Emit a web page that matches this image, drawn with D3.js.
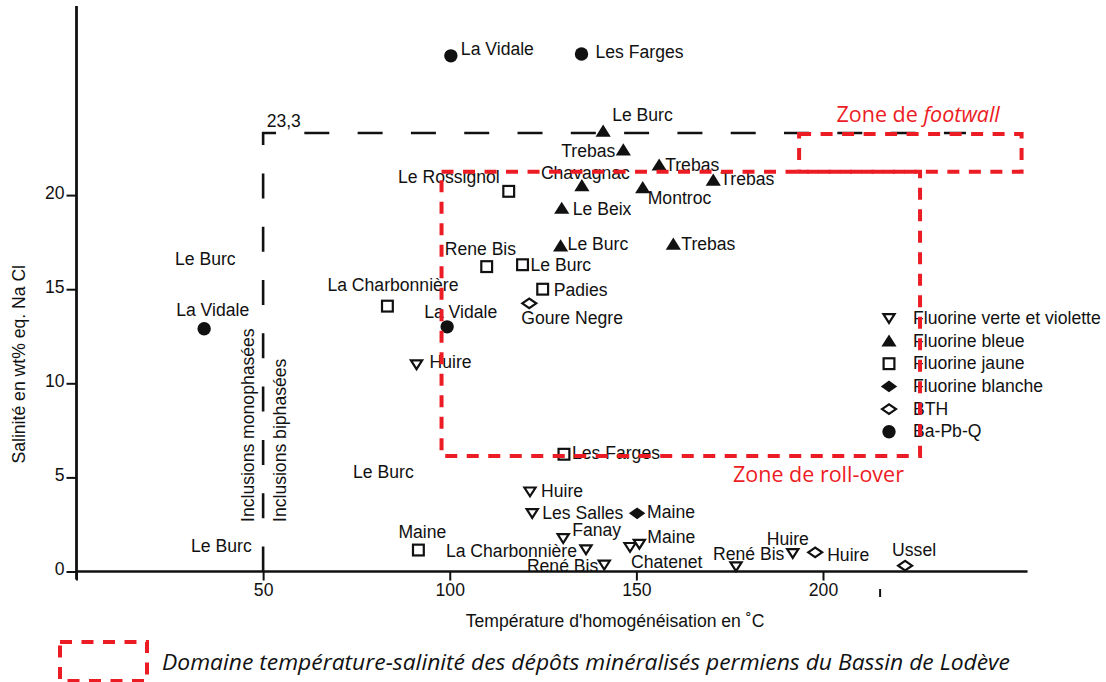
<!DOCTYPE html>
<html><head><meta charset="utf-8">
<script src="https://cdn.jsdelivr.net/npm/d3@7"></script>
<style>
html,body{margin:0;padding:0;background:#fff;}
svg{display:block;}
text{font-family:"Liberation Sans",Arial,Helvetica,sans-serif;fill:#111;}
</style></head><body>
<svg id="chart" width="1106" height="682"></svg>
<script>
// ---------- data ----------
const categories = ["Fluorine verte et violette","Fluorine bleue","Fluorine jaune","Fluorine blanche","BTH","Ba-Pb-Q"];

const fvNames = ["Huire","Huire","Les Salles","Fanay","La Charbonnière","René Bis","Chatenet","Maine","René Bis","Huire"];
const fvTemp  = [91.1,121.5,122.1,130.4,136.5,141.4,148.3,150.8,176.7,191.9];
const fvSal   = [11.0,4.24,3.09,1.76,1.17,0.35,1.29,1.46,0.26,0.97];

const fbNames = ["Le Burc","Trebas","Trebas","Trebas","Chavagnac","Montroc","Le Beix","Le Burc","Trebas"];
const fbTemp  = [141.1,146.5,156.1,170.6,135.4,151.7,130.0,129.7,159.9];
const fbSal   = [23.4,22.4,21.6,20.8,20.5,20.4,19.3,17.3,17.4];

const fjNames = ["Le Rossignol","Rene Bis","Le Burc","Padies","La Charbonnière","Les Farges","Maine"];
const fjTemp  = [115.8,109.9,119.5,124.9,83.3,130.6,91.6];
const fjSal   = [20.2,16.2,16.3,15.0,14.1,6.23,1.14];

const fwNames = ["Maine"];
const fwTemp  = [150.2];
const fwSal   = [3.09];

const bthNames = ["Goure Negre","Huire","Ussel"];
const bthTemp  = [121.3,197.9,222.0];
const bthSal   = [14.25,1.02,0.31];

const bpNames = ["La Vidale","Les Farges","La Vidale","La Vidale"];
const bpTemp  = [100.3,135.3,34.2,99.3];
const bpSal   = [27.4,27.5,12.9,13.0];

// labels without marker
const freeNames = ["Le Burc","Le Burc","Le Burc"];
const freeTemp  = [26.4,74.1,30.7];
const freeSal   = [16.3,4.97,1.05];

// limits
const limitTemp = 50, limitSal = 23.3, limitTempEnd = 238.3;
const zoneNames = ["roll-over","footwall"];
const zoneT0 = [97.8,193.6], zoneT1 = [226.0,253.2];
const zoneS0 = [6.14,21.24], zoneS1 = [21.24,23.25];

const xTicks = [0,50,100,150,200];
const yTicks = [0,5,10,15,20];
const strayTick = [215.3];

// ---------- layout (label placement, px) ----------
const fvLab = [[13,4,"start"],[11,5,"start"],[10,6,"start"],[9,-2,"start"],[-9,8,"end"],[-6,7,"end"],[1,21,"start"],[8,-1,"start"],[-23,-7,"start"],[-26,-8,"start"]];
const fbLab = [[9,-10,"start"],[-8,7,"end"],[6,6,"start"],[7,5,"start"],[-41,-7,"start"],[5,16,"start"],[11,7,"start"],[7,4,"start"],[8,6,"start"]];
const fjLab = [[-9,-8,"end"],[-42,-12,"start"],[8,6,"start"],[11,7,"start"],[-60,-15,"start"],[8,5,"start"],[-20,-12,"start"]];
const fwLab = [[10,5,"start"]];
const bthLab = [[-8,21,"start"],[12,9,"start"],[-13,-10,"start"]];
const bpLab = [[10,-1,"start"],[14,4,"start"],[-28,-12.5,"start"],[-23,-9,"start"]];

// ---------- drawing ----------
const svg = d3.select("#chart");
const FS = "17.6px";
const x = d3.scaleLinear().domain([0,200]).range([76.5,823]);
const y = d3.scaleLinear().domain([0,20]).range([571.5,195.1]);

const RED = "#ec1c24";

// axes
const gx = svg.append("g").attr("transform","translate(0,"+y(0)+")")
  .call(d3.axisBottom(x).tickValues(xTicks).tickFormat(d=>d===0?"":d).tickSize(9).tickSizeOuter(0).tickPadding(3.5));
gx.select(".domain").remove();
gx.selectAll(".tick line").attr("stroke","#111").attr("stroke-width",2);
gx.selectAll(".tick text").attr("font-size",FS).attr("font-family","Liberation Sans, Arial").attr("fill","#111");

const gy = svg.append("g").attr("transform","translate("+x(0)+",0)")
  .call(d3.axisLeft(y).tickValues(yTicks).tickSize(10).tickSizeOuter(0).tickPadding(2));
gy.select(".domain").remove();
gy.selectAll(".tick line").attr("stroke","#111").attr("stroke-width",2);
gy.selectAll(".tick text").attr("font-size",FS).attr("font-family","Liberation Sans, Arial").attr("fill","#111").attr("dy","0.17em");

svg.append("line").attr("x1",x(0)).attr("x2",x(0)).attr("y1",6).attr("y2",y(0)+8)
  .attr("stroke","#111").attr("stroke-width",2.8);
svg.append("line").attr("x1",x(0)).attr("x2",x(254.8)).attr("y1",y(0)).attr("y2",y(0))
  .attr("stroke","#111").attr("stroke-width",2.4);
svg.selectAll(".stray").data(strayTick).join("line").attr("class","stray")
  .attr("x1",d=>x(d)).attr("x2",d=>x(d)).attr("y1",589).attr("y2",597)
  .attr("stroke","#111").attr("stroke-width",2);

// axis titles
svg.append("text").attr("x",615).attr("y",626.5).attr("text-anchor","middle")
  .attr("font-size",FS).text("Température d'homogénéisation en ˚C");
svg.append("text").attr("transform","translate(25,463.5) rotate(-90)").attr("font-size",FS)
  .text("Salinité en wt% eq. Na Cl");

// black dashed limit
svg.append("path")
  .attr("d", d3.line()([[x(limitTemp),y(0)],[x(limitTemp),y(limitSal)],[x(limitTempEnd),y(limitSal)]]))
  .attr("fill","none").attr("stroke","#111").attr("stroke-width",2.6)
  .attr("stroke-dasharray","25,28.3");
svg.append("text").attr("x",x(limitTemp)+3.5).attr("y",y(limitSal)-6).attr("font-size",FS).text("23,3");
svg.append("text").attr("transform","translate(253.5,522) rotate(-90)").attr("font-size",FS).text("Inclusions monophasées");
svg.append("text").attr("transform","translate(285.5,522) rotate(-90)").attr("font-size",FS).text("Inclusions biphasées");

// symbols
const sym = {
  "Fluorine verte et violette": g => g.append("path").attr("d","M-5.6,-4.2L5.6,-4.2L0,4.6Z").attr("fill","#fff").attr("stroke","#111").attr("stroke-width",2.2).attr("stroke-linejoin","miter"),
  "Fluorine bleue": g => g.append("path").attr("d","M-7.6,5.6L7.6,5.6L0,-6.6Z").attr("fill","#111"),
  "Fluorine jaune": g => g.append("rect").attr("x",-5.4).attr("y",-5.4).attr("width",10.8).attr("height",10.8).attr("fill","#fff").attr("stroke","#111").attr("stroke-width",2.2),
  "Fluorine blanche": g => g.append("path").attr("d","M-8.2,0L0,-5.9L8.2,0L0,5.9Z").attr("fill","#111"),
  "BTH": g => g.append("path").attr("d","M-7,0L0,-4.8L7,0L0,4.8Z").attr("fill","#fff").attr("stroke","#111").attr("stroke-width",2.2),
  "Ba-Pb-Q": g => g.append("circle").attr("r",6.7).attr("fill","#111")
};

const seriesList = [
  [categories[0], fvNames, fvTemp, fvSal, fvLab],
  [categories[1], fbNames, fbTemp, fbSal, fbLab],
  [categories[2], fjNames, fjTemp, fjSal, fjLab],
  [categories[3], fwNames, fwTemp, fwSal, fwLab],
  [categories[4], bthNames, bthTemp, bthSal, bthLab],
  [categories[5], bpNames, bpTemp, bpSal, bpLab]
];

const ptsG = svg.append("g");
seriesList.forEach(([cat, names, temps, sals, labs]) => {
  names.forEach((n,i) => {
    const px = x(temps[i]), py = y(sals[i]);
    const g = ptsG.append("g").attr("transform","translate("+px+","+py+")");
    sym[cat](g);
    ptsG.append("text").attr("x",px+labs[i][0]).attr("y",py+labs[i][1])
      .attr("text-anchor",labs[i][2]).attr("font-size",FS).text(n);
  });
});
freeNames.forEach((n,i)=>{
  svg.append("text").attr("x",x(freeTemp[i])).attr("y",y(freeSal[i])).attr("font-size",FS).text(n);
});

// legend
const lg = svg.append("g");
categories.forEach((c,i)=>{
  const ly = 318.3 + i*22.7;
  const g = lg.append("g").attr("transform","translate(889,"+ly+")");
  sym[c](g);
  lg.append("text").attr("x",913).attr("y",ly+5.5).attr("font-size",FS).text(c);
});

// red zones
zoneNames.forEach((z,i)=>{
  svg.append("rect").attr("x",x(zoneT0[i])).attr("y",y(zoneS1[i]))
    .attr("width",x(zoneT1[i])-x(zoneT0[i])).attr("height",y(zoneS0[i])-y(zoneS1[i]))
    .attr("fill","none").attr("stroke",RED).attr("stroke-width",4).attr("stroke-dasharray","12,9.5");
});
const ft = svg.append("text").attr("x",836.5).attr("y",121.5).attr("font-size","21.5px")
  .style("font-family","'Open Sans',sans-serif").style("fill",RED);
ft.append("tspan").text("Zone de ");
ft.append("tspan").attr("font-style","italic").text("footwall");
svg.append("text").attr("x",733).attr("y",481.5).attr("font-size","21.5px")
  .style("font-family","'Open Sans',sans-serif").style("fill",RED).text("Zone de roll-over");

// caption
svg.append("rect").attr("x",60).attr("y",642).attr("width",87).attr("height",39)
  .attr("fill","none").attr("stroke",RED).attr("stroke-width",4).attr("stroke-dasharray","12,9.5");
svg.append("text").attr("x",162).attr("y",670).attr("font-size","21.5px").attr("font-style","italic")
  .style("font-family","'Open Sans',sans-serif").style("fill","#111")
  .attr("textLength",848).attr("lengthAdjust","spacingAndGlyphs")
  .text("Domaine température-salinité des dépôts minéralisés permiens du Bassin de Lodève");
</script>
</body></html>
